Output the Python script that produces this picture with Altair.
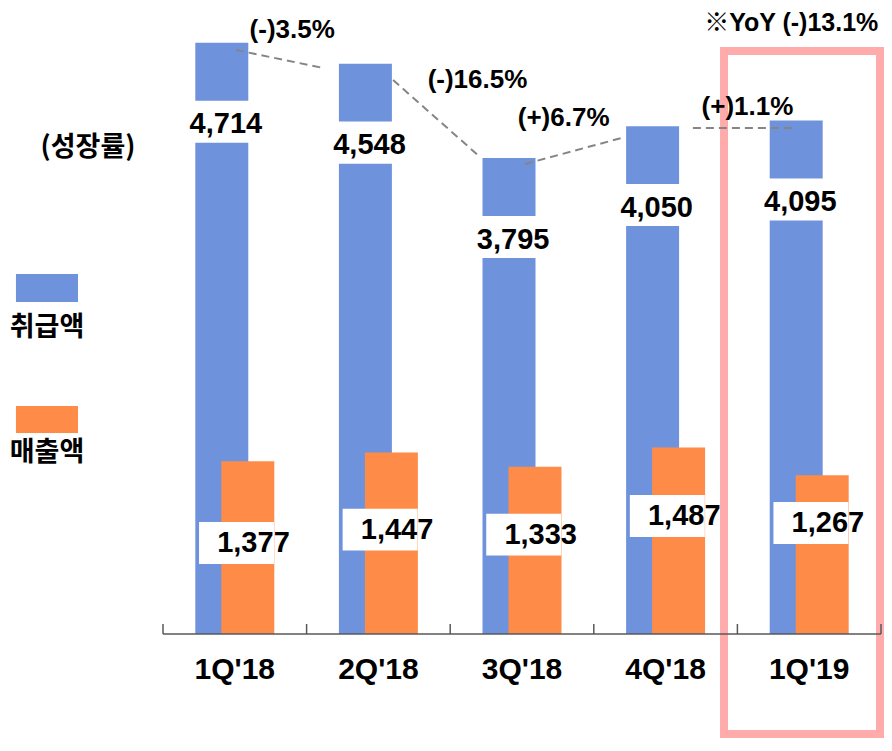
import altair as alt
import pandas as pd

# ---------------- data ----------------
quarters = ["1Q'18", "2Q'18", "3Q'18", "4Q'18", "1Q'19"]
gmv = [4714, 4548, 3795, 4050, 4095]          # 취급액
sales = [1377, 1447, 1333, 1487, 1267]        # 매출액
growth = ["(-)3.5%", "(-)16.5%", "(+)6.7%", "(+)1.1%"]
yoy_note = "※YoY (-)13.1%"
growth_title = "(성장률)"
series_names = ["취급액", "매출액"]

# ---------------- layout (data units) ----------------
sales_label_y = [726, 833, 793, 941, 885]
growth_label_x = [0.40, 1.69, 2.29, 3.57]
growth_label_y = [4817, 4418, 4115, 4203]
conn_x1 = [0.008, 1.102, 2.021, 3.19]
conn_y1 = [4657, 4418, 3748, 4035]
conn_x2 = [0.614, 1.708, 2.717, 3.901]
conn_y2 = [4514, 3804, 3963, 4035]

BLUE = "#6E93DC"
ORANGE = "#FF8B48"
PINK = "#FFABAB"
GRAY = "#858585"
FONT = "Liberation Sans, Noto Sans CJK KR, sans-serif"
KFONT = "Noto Sans CJK KR"

W, H = 876, 730
xs = alt.Scale(domain=[-1.5794, 4.5209], nice=False, zero=False)
ys = alt.Scale(domain=[-829, 4992], nice=False, zero=False)

df = pd.DataFrame({
    "q": quarters, "i": list(range(5)), "gmv": gmv, "sales": sales,
    "sly": sales_label_y,
})

base = alt.Chart(df).transform_calculate(z="0")


def X(f):
    return alt.X(f, type="quantitative", scale=xs, axis=None)


def Y(f):
    return alt.Y(f, type="quantitative", scale=ys, axis=None)


blue_bars = base.mark_bar(color=BLUE).transform_calculate(
    a="datum.i-0.275", b="datum.i+0.094"
).encode(x=X("a"), x2="b:Q", y=Y("gmv"), y2="z:Q")

orange_bars = base.mark_bar(color=ORANGE).transform_calculate(
    a="datum.i-0.094", b="datum.i+0.275"
).encode(x=X("a"), x2="b:Q", y=Y("sales"), y2="z:Q")

blue_boxes = base.mark_rect(color="white").transform_calculate(
    a="datum.i-0.30", b="datum.i+0.12", t="datum.gmv-462", u="datum.gmv-797"
).encode(x=X("a"), x2="b:Q", y=Y("t"), y2="u:Q")

orange_boxes = base.mark_rect(color="white").transform_calculate(
    a="datum.i-0.249", b="datum.i+0.273", t="datum.sly+167", u="datum.sly-167"
).encode(x=X("a"), x2="b:Q", y=Y("t"), y2="u:Q")

blue_text = base.mark_text(font=FONT, fontSize=29, fontWeight="bold", color="black",
                           baseline="middle", align="center").transform_calculate(
    a="datum.i-0.062", t="datum.gmv-650"
).encode(x=X("a"), y=Y("t"), text=alt.Text("gmv:Q", format=","))

orange_text = base.mark_text(font=FONT, fontSize=29, fontWeight="bold", color="black",
                             baseline="middle", align="center").transform_calculate(
    a="datum.i+0.13"
).encode(x=X("a"), y=Y("sly"), text=alt.Text("sales:Q", format=","))

cat_text = base.mark_text(font=FONT, fontSize=30, fontWeight="bold", color="black",
                          baseline="middle", align="center").transform_calculate(
    t="-287"
).encode(x=X("i"), y=Y("t"), text="q:N")

# axis line and ticks
bounds = pd.DataFrame({"b": [-0.5, 0.5, 1.5, 2.5, 3.5, 4.5]})
axis_line = alt.Chart(pd.DataFrame({"a": [-0.5], "b": [4.5], "y": [0]})).mark_rule(
    color="#595959", strokeWidth=1.5
).encode(x=X("a"), x2="b:Q", y=Y("y"))
ticks = alt.Chart(bounds).mark_rule(color="#595959", strokeWidth=1.5).transform_calculate(
    y0="0", y1="80"
).encode(x=X("b"), y=Y("y0"), y2="y1:Q")

# connectors and growth labels
conn_df = pd.DataFrame({"x1": conn_x1, "y1": conn_y1, "x2": conn_x2, "y2": conn_y2})
connectors = alt.Chart(conn_df).mark_rule(color=GRAY, strokeWidth=2, strokeDash=[8, 5]).encode(
    x=X("x1"), y=Y("y1"), x2="x2:Q", y2="y2:Q"
)
g_df = pd.DataFrame({"t": growth, "x": growth_label_x, "y": growth_label_y})
growth_text = alt.Chart(g_df).mark_text(font=FONT, fontSize=26, fontWeight="bold", color="black",
                                        baseline="middle", align="center").encode(
    x=X("x"), y=Y("y"), text="t:N"
)

note = alt.Chart(pd.DataFrame({"t": [yoy_note], "x": [3.875], "y": [4872]})).mark_text(
    font=FONT, fontSize=25, fontWeight="bold", color="black", baseline="middle", align="center"
).encode(x=X("x"), y=Y("y"), text="t:N")

gtitle = alt.Chart(pd.DataFrame({"t": [growth_title], "x": [-1.022], "y": [3876]})).mark_text(
    font=KFONT, fontSize=27, fontWeight="bold", color="black", baseline="middle", align="center"
).encode(x=X("x"), y=Y("y"), text="t:N")

# legend
leg_df = pd.DataFrame({
    "name": series_names, "c": [BLUE, ORANGE],
    "x1": [-1.524, -1.524], "x2": [-1.092, -1.092],
    "y1": [2871, 1818], "y2": [2648, 1603],
    "tx": [-1.308, -1.308], "ty": [2440, 1443],
})
leg_rects = alt.Chart(leg_df).mark_rect().encode(
    x=X("x1"), x2="x2:Q", y=Y("y1"), y2="y2:Q", color=alt.Color("c:N", scale=None)
)
leg_text = alt.Chart(leg_df).mark_text(font=KFONT, fontSize=27, fontWeight="bold", color="black",
                                       baseline="middle", align="center").encode(
    x=X("tx"), y=Y("ty"), text="name:N"
)

# highlight box around latest quarter
hl = alt.Chart(pd.DataFrame({"x1": [3.407], "x2": [4.493], "y1": [4649], "y2": [-797]})).mark_rect(
    fillOpacity=0, stroke=PINK, strokeWidth=8
).encode(x=X("x1"), x2="x2:Q", y=Y("y1"), y2="y2:Q")

chart = alt.layer(
    hl, blue_bars, orange_bars, blue_boxes, orange_boxes, connectors,
    axis_line, ticks, blue_text, orange_text, cat_text, growth_text, note, gtitle,
    leg_rects, leg_text
).properties(
    width=W, height=H, padding=0, autosize=alt.AutoSizeParams(type="none")
).configure_view(stroke=None)

chart.save("out.html", embed_options={"renderer": "svg", "actions": False})
